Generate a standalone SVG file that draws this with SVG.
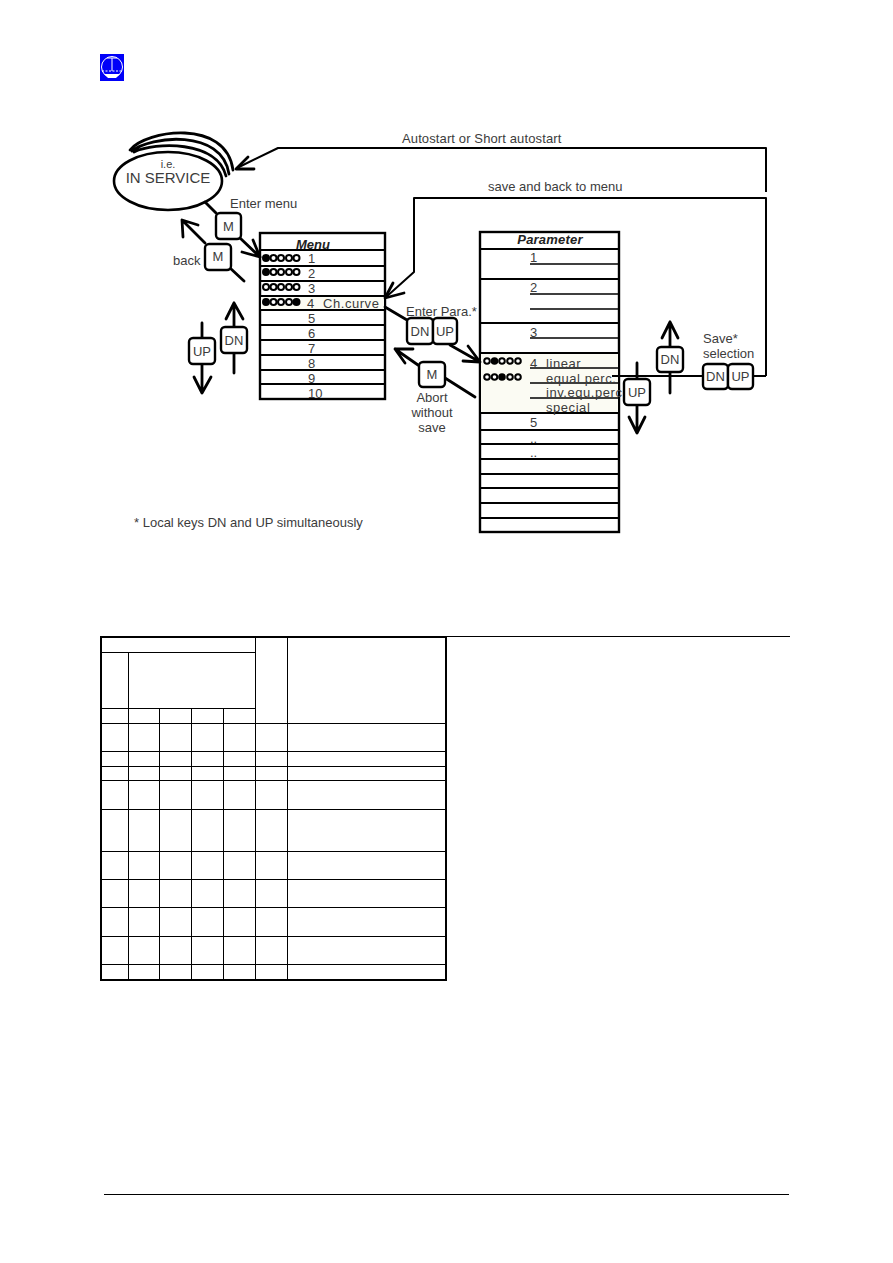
<svg xmlns="http://www.w3.org/2000/svg" width="893" height="1263" viewBox="0 0 893 1263">
<style>
text{font-family:"Liberation Sans",Arial,sans-serif;fill:#3c3c3c;font-size:13px}
.hd{font-weight:bold;font-style:italic;fill:#222}
.c{text-anchor:middle}
.wide{letter-spacing:.55px}
.box{fill:#fff;stroke:#000;stroke-width:2.4}
.rule{stroke:#000;stroke-width:2;fill:none}
.thin{stroke:#000;stroke-width:1.5;fill:none}
.run{stroke:#000;stroke-width:2;fill:none;stroke-linejoin:round}
.wire{stroke:#000;stroke-width:2.8;fill:none;stroke-linecap:round;stroke-linejoin:round}
.heavy{stroke:#000;stroke-width:2.8;fill:none;stroke-linecap:round}
.key{fill:#fff;stroke:#000;stroke-width:2.4}
.led{fill:#fff;stroke:#000;stroke-width:2}
.on{fill:#000}
.grid{stroke:#000;stroke-width:1;fill:none;shape-rendering:crispEdges}
</style>
<g id="logo">
<rect x="100" y="54" width="24" height="27" fill="#0000f8"/>
<circle cx="112" cy="67" r="10.5" fill="none" stroke="#fff" stroke-width="1"/>
<path d="M107 58H117M112 58V71" fill="none" stroke="#fff" stroke-width="1"/>
<path d="M102 71H122" stroke="#fff" stroke-width="1" stroke-dasharray="2 1.500"/>
<path d="M104 74H120L116 78H108Z" fill="#fff"/>
</g>
<g id="state-in-service">
<ellipse cx="168" cy="181" rx="54" ry="29" fill="#fff" stroke="#000" stroke-width="2.6"/>
<text class="c" x="168" y="168" style="font-size:11px">i.e.</text>
<text class="c" x="168" y="183" style="font-size:15px">IN SERVICE</text>
</g>
<g id="menu">
<rect class="box" x="260" y="233" width="125" height="166"/>
<rect x="261" y="296" width="123" height="14" fill="#fbfbf3"/>
<path class="rule" d="M260 250H385M260 266H385M260 281H385M260 296H385M260 310H385M260 325H385M260 340H385M260 355H385M260 370H385M260 384H385"/>
<text class="c hd" x="313" y="249">Menu</text>
<text x="308" y="263">1</text>
<text x="308" y="278">2</text>
<text x="308" y="293">3</text>
<text x="307" y="308">4</text>
<text class="wide" x="323" y="308">Ch.curve</text>
<text x="308" y="323">5</text>
<text x="308" y="338">6</text>
<text x="308" y="353">7</text>
<text x="308" y="368">8</text>
<text x="308" y="383">9</text>
<text x="308" y="398">10</text>
<g id="menu-leds">
<circle class="led on" cx="266" cy="258" r="3"/><circle class="led" cx="273.500" cy="258" r="3"/><circle class="led" cx="281" cy="258" r="3"/><circle class="led" cx="289" cy="258" r="3"/><circle class="led" cx="296.500" cy="258" r="3"/>
<circle class="led on" cx="266" cy="272" r="3"/><circle class="led" cx="273.500" cy="272" r="3"/><circle class="led" cx="281" cy="272" r="3"/><circle class="led" cx="289" cy="272" r="3"/><circle class="led" cx="296.500" cy="272" r="3"/>
<circle class="led" cx="266" cy="287" r="3"/><circle class="led" cx="273.500" cy="287" r="3"/><circle class="led" cx="281" cy="287" r="3"/><circle class="led" cx="289" cy="287" r="3"/><circle class="led" cx="296.500" cy="287" r="3"/>
<circle class="led on" cx="266" cy="302" r="3"/><circle class="led" cx="273.500" cy="302" r="3"/><circle class="led" cx="281" cy="302" r="3"/><circle class="led" cx="289" cy="302" r="3"/><circle class="led on" cx="296.500" cy="302" r="3"/>
</g>
</g>
<g id="parameter">
<rect class="box" x="480" y="232" width="139" height="300"/>
<rect x="481" y="353" width="137" height="60" fill="#fbfbf3"/>
<path class="rule" d="M480 249H619M480 279H619M480 323H619M480 353H619M480 413H619M480 430H619M480 444H619M480 459H619M480 474H619M480 488H619M480 503H619M480 518H619"/>
<path class="thin" d="M530 264H619M530 294H619M530 309H619M530 338H619M530 368H619M530 383H619M530 398H619"/>
<text class="c hd" x="550" y="244" style="letter-spacing:.2px">Parameter</text>
<text x="530" y="262">1</text>
<text x="530" y="292">2</text>
<text x="530" y="337">3</text>
<text x="530" y="368">4</text>
<text class="wide" x="546" y="368">linear</text>
<text class="wide" x="546" y="383">equal perc.</text>
<text class="wide" x="546" y="397">inv.equ.perc</text>
<text class="wide" x="546" y="412">special</text>
<text x="530" y="427">5</text>
<text x="530" y="443">..</text>
<text x="530" y="457">..</text>
<g id="parameter-leds">
<circle class="led" cx="487" cy="361" r="2.800"/><circle class="led on" cx="494.500" cy="361" r="2.800"/><circle class="led" cx="502" cy="361" r="2.800"/><circle class="led" cx="510" cy="361" r="2.800"/><circle class="led" cx="518" cy="361" r="2.800"/>
<circle class="led" cx="487" cy="377" r="2.800"/><circle class="led" cx="494.500" cy="377" r="2.800"/><circle class="led on" cx="502" cy="377" r="2.800"/><circle class="led" cx="510" cy="377" r="2.800"/><circle class="led" cx="518" cy="377" r="2.800"/>
</g>
</g>
<g id="connectors">
<path class="heavy" d="M130 150C146 130 226 118 233 170M132 151C150 136 222 128 229 174M134 152C155 142 217 140 226 176"/>
<path class="run" d="M766 192V148H278L237 168"/>
<path class="wire" d="M248 157L236 169L254 169"/>
<path class="run" d="M766 376V198H414V272L385 298"/>
<path class="wire" d="M393 283L385 298L404 293"/>
<path class="run" d="M766 376H753"/>
<path class="wire" d="M205 202L216 213"/>
<path class="wire" d="M240 238L260 257M253 240L260 257L242 252"/>
<path class="wire" d="M244 281L230 268M205 243L182 220M183 237L182 220L198 225"/>
<path class="wire" d="M202 323V338M202 364V393M194 377L202 393L211 377"/>
<path class="wire" d="M234 373V353M234 327V303M226 319L234 303L243 319"/>
<path class="wire" d="M385 307L407 320"/>
<path class="wire" d="M450 345L480 362M468 346L480 362L463 361"/>
<path class="wire" d="M475 397L445 378M418 365L395 349M413 349L395 349L405 363"/>
<path class="run" d="M612 376H703"/>
<path class="wire" d="M637 363V379M637 405V433M629 417L637 433L645 417"/>
<path class="wire" d="M670 393V372M670 347V322M662 338L670 322L678 338"/>
</g>
<g id="key-m-enter"><rect class="key" x="216" y="213" width="25" height="26" rx="4"/><text class="c" x="228.500" y="231">M</text></g>
<g id="key-m-back"><rect class="key" x="205" y="244" width="26" height="26" rx="4"/><text class="c" x="218" y="261">M</text></g>
<g id="key-up-menu"><rect class="key" x="189" y="338" width="26" height="26" rx="4"/><text class="c" x="202" y="356">UP</text></g>
<g id="key-dn-menu"><rect class="key" x="221" y="327" width="26" height="26" rx="4"/><text class="c" x="234" y="345">DN</text></g>
<g id="key-enter-dn"><rect class="key" x="407" y="318" width="26" height="26" rx="4"/><text class="c" x="420" y="336">DN</text></g>
<g id="key-enter-up"><rect class="key" x="433" y="318" width="24" height="26" rx="4"/><text class="c" x="445" y="336">UP</text></g>
<g id="key-m-abort"><rect class="key" x="419" y="362" width="26" height="25" rx="4"/><text class="c" x="432" y="379">M</text></g>
<g id="key-dn-param"><rect class="key" x="657" y="347" width="26" height="25" rx="4"/><text class="c" x="670" y="364">DN</text></g>
<g id="key-up-param"><rect class="key" x="624" y="379" width="26" height="26" rx="4"/><text class="c" x="637" y="397">UP</text></g>
<g id="key-save-dn"><rect class="key" x="703" y="364" width="25" height="25" rx="4"/><text class="c" x="715.500" y="381">DN</text></g>
<g id="key-save-up"><rect class="key" x="728" y="364" width="25" height="25" rx="4"/><text class="c" x="740.500" y="381">UP</text></g>
<g id="labels">
<text x="402" y="143" style="letter-spacing:.12px">Autostart or Short autostart</text>
<text x="488" y="191">save and back to menu</text>
<text x="230" y="208">Enter menu</text>
<text x="173" y="265">back</text>
<text x="406" y="316">Enter Para.*</text>
<text class="c" x="432" y="402">Abort</text>
<text class="c" x="432" y="417">without</text>
<text class="c" x="432" y="432">save</text>
<text x="703" y="343">Save*</text>
<text x="703" y="358">selection</text>
<text x="134" y="527">* Local keys DN and UP simultaneously</text>
</g>
<g id="table">
<rect x="101" y="637" width="345" height="343" fill="none" stroke="#000" stroke-width="2" shape-rendering="crispEdges"/>
<path class="grid" d="M255 637V980M287 637V980M128 652V708M101 652H255M101 708H255M128 708V980M159 708V980M191 708V980M223 708V980M101 723H446M101 751H446M101 766H446M101 780H446M101 809H446M101 851H446M101 879H446M101 907H446M101 936H446M101 964H446"/>
</g>
<path d="M446 636H790" stroke="#000" stroke-width="1" shape-rendering="crispEdges"/>
<path d="M104 1194H789" stroke="#000" stroke-width="1" shape-rendering="crispEdges"/>
</svg>
